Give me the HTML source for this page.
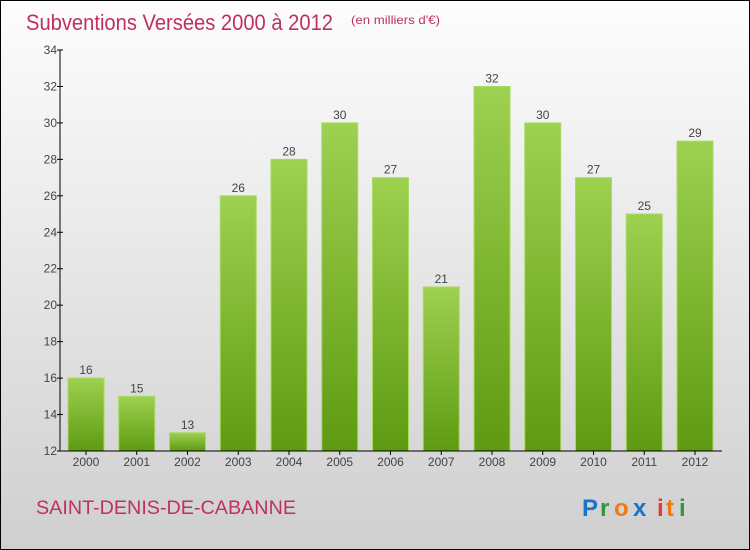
<!DOCTYPE html>
<html><head><meta charset="utf-8"><style>
body{margin:0;}
svg{display:block;font-family:"Liberation Sans",sans-serif;}
</style></head><body>
<svg id="chart" width="750" height="550" xmlns="http://www.w3.org/2000/svg">
<defs>
<linearGradient id="bg" x1="0" y1="0" x2="0" y2="1"><stop offset="0" stop-color="#fdfdfd"/><stop offset="1" stop-color="#cfcfcf"/></linearGradient>
<linearGradient id="bar" x1="0" y1="0" x2="0" y2="1"><stop offset="0" stop-color="#9dd150"/><stop offset="1" stop-color="#5f9a12"/></linearGradient>
</defs>
<rect x="0.5" y="0.5" width="749" height="549" fill="url(#bg)" stroke="#000"/>
<text x="26" y="30" font-size="22" fill="#c0305e" textLength="307" lengthAdjust="spacingAndGlyphs">Subventions Versées 2000 à 2012</text>
<text x="351" y="24" font-size="12" fill="#c0305e" textLength="89" lengthAdjust="spacingAndGlyphs">(en milliers d'€)</text>
<g id="plot"></g>
<text x="36" y="514" font-size="19" fill="#c0305e" textLength="260" lengthAdjust="spacingAndGlyphs">SAINT-DENIS-DE-CABANNE</text>
<g font-size="24" font-weight="bold">
<text x="582" y="516" fill="#1a73c9">P</text><text x="600" y="516" fill="#2a9a3a">r</text><text x="614" y="516" fill="#f07a10">o</text><text x="633" y="516" fill="#1a73c9">x</text><text x="657" y="516" fill="#e33">i</text><text x="666" y="516" fill="#f07a10">t</text><text x="679" y="516" fill="#2a9a3a">i</text>
</g>
</svg>
<script>
const years=["2000","2001","2002","2003","2004","2005","2006","2007","2008","2009","2010","2011","2012"];
const values=[16,15,13,26,28,30,27,21,32,30,27,25,29];
const yTicks=[12,14,16,18,20,22,24,26,28,30,32,34];
const NS="http://www.w3.org/2000/svg";
const g=document.getElementById('plot');
const x0=60,yb=451,yt=50,ymin=12,ymax=34,step=50.75,bw=36;
const y=v=>yb-(v-ymin)/(ymax-ymin)*(yb-yt);
const xc=i=>86+i*step;
function mk(t,a,p){const e=document.createElementNS(NS,t);for(const k in a)e.setAttribute(k,a[k]);(p||g).appendChild(e);return e;}
values.forEach((v,i)=>{
 const r=mk('rect',{x:xc(i)-bw/2,y:y(v),width:bw,height:yb-y(v),fill:'url(#bar)',stroke:'#a8dc60','stroke-width':1});
 
 
 const t=mk('text',{x:xc(i),y:y(v)-4,'text-anchor':'middle','font-size':12,fill:'#444'});t.textContent=v;
 
 
 const l=mk('text',{x:xc(i),y:466,'text-anchor':'middle','font-size':12,fill:'#444'});l.textContent=years[i];
 
 
 mk('line',{x1:xc(i),x2:xc(i),y1:yb,y2:yb+4,stroke:'#000'});
});
yTicks.forEach(v=>{
 mk('line',{x1:x0-3,x2:x0+3,y1:y(v),y2:y(v),stroke:'#000'});
 const t=mk('text',{x:x0-3,y:y(v)+4,'text-anchor':'end','font-size':12,fill:'#444'});t.textContent=v;
 
 
});
const ya=mk('line',{x1:x0,x2:x0,y1:yt,y2:yb,stroke:'#000'});


const xa=mk('line',{x1:x0,x2:722,y1:yb,y2:yb,stroke:'#000'});


</script>
</body></html>
